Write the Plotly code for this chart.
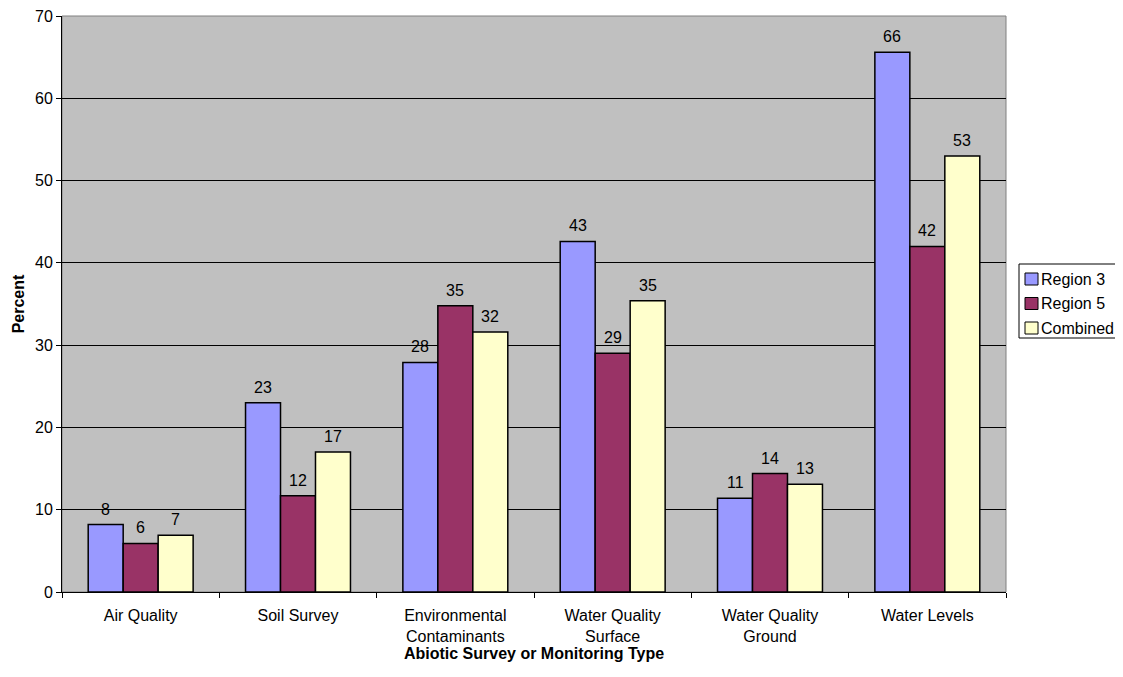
import plotly.graph_objects as go

categories = ["Air Quality", "Soil Survey", "Environmental<br>Contaminants",
              "Water Quality<br>Surface", "Water Quality<br>Ground", "Water Levels"]
region3 = [8.2, 23.0, 27.9, 42.6, 11.4, 65.6]
region5 = [5.9, 11.7, 34.8, 29.0, 14.4, 42.0]
combined = [6.9, 17.0, 31.6, 35.4, 13.1, 53.0]
series_names = ["Region 3", "Region 5", "Combined"]
colors = ["#9999FF", "#993366", "#FFFFCC"]

FONT = "Arial"
BARGAP = 0.333
OFF = 8  # page body margin
W, H = 1123 - OFF, 677 - OFF
L, R, T, B = 62 - OFF, 117, 16 - OFF, 85
PW, PH = W - L - R, H - T - B

fig = go.Figure()
all_series = [region3, region5, combined]
for name, vals, col in zip(series_names, all_series, colors):
    fig.add_trace(go.Bar(
        x=categories, y=vals, name=name,
        marker=dict(color=col, line=dict(color="black", width=1.5)),
        showlegend=False,
    ))

# value labels above bars
bw = (1 - BARGAP) / 3
for si, vals in enumerate(all_series):
    for ci, v in enumerate(vals):
        fig.add_annotation(x=ci + (si - 1) * bw, y=v, text=f"{round(v):d}",
                           showarrow=False, yanchor="bottom", yshift=5,
                           font=dict(family=FONT, size=16, color="black"))

# legend drawn in paper coordinates (box, swatches, labels); px are screen px
def px_x(px):
    return (px - OFF - L) / PW

def px_y(py):
    return (OFF + H - B - py) / PH

fig.add_shape(type="rect", xref="paper", yref="paper",
              x0=px_x(1019), x1=px_x(1120), y0=px_y(338), y1=px_y(264),
              line=dict(color="black", width=1), fillcolor="white")
for i, (name, col) in enumerate(zip(series_names, colors)):
    cy = 279 + i * 24.5
    fig.add_shape(type="rect", xref="paper", yref="paper",
                  x0=px_x(1025), x1=px_x(1038), y0=px_y(cy + 6), y1=px_y(cy - 6),
                  line=dict(color="black", width=1), fillcolor=col)
    fig.add_annotation(xref="paper", yref="paper", x=px_x(1039), y=px_y(cy),
                       xanchor="left", yanchor="middle", text=name, showarrow=False,
                       font=dict(family=FONT, size=16, color="black"))

fig.update_layout(
    width=W, height=H,
    margin=dict(l=L, r=R, t=T, b=B, autoexpand=False),
    paper_bgcolor="white", plot_bgcolor="#C0C0C0",
    barmode="group", bargap=BARGAP, bargroupgap=0,
    font=dict(family=FONT, size=16, color="black"),
    showlegend=False,
    xaxis=dict(type="category", tickson="boundaries", ticks="outside", ticklen=5,
               tickcolor="black", showline=True, linecolor="black", linewidth=1,
               showgrid=False, automargin=False, ticklabelstandoff=9,
               title=dict(text="<b>Abiotic Survey or Monitoring Type</b>",
                          font=dict(family=FONT, size=16), standoff=0),
               tickfont=dict(family=FONT, size=16)),
    yaxis=dict(range=[0, 70], dtick=10, ticks="outside", ticklen=5, tickcolor="black",
               showline=True, linecolor="black", linewidth=1, automargin=False,
               ticklabeloverflow="allow",
               showgrid=True, gridcolor="black", gridwidth=1, zeroline=False,
               title=dict(text="<b>Percent</b>", font=dict(family=FONT, size=16), standoff=6),
               tickfont=dict(family=FONT, size=16)),
)
fig.add_shape(type="rect", xref="paper", yref="paper", x0=0, y0=0, x1=1, y1=1,
              line=dict(color="#808080", width=1), layer="below")
fig.write_html("out.html")
